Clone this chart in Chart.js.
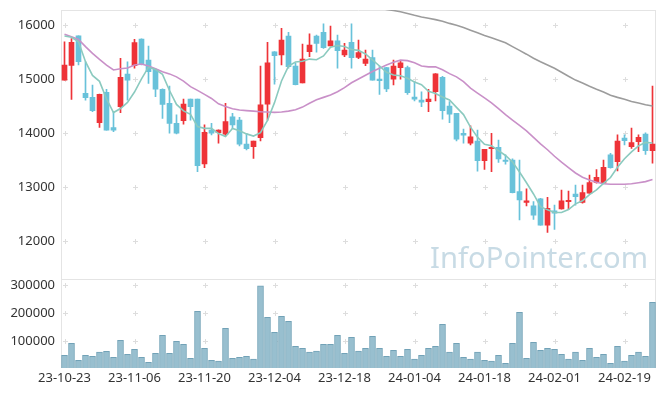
<!DOCTYPE html>
<html>
<head>
<meta charset="utf-8">
<script src="https://cdn.jsdelivr.net/npm/chart.js@4.4.1/dist/chart.umd.min.js"></script>
<style>
html, body { margin: 0; padding: 0; background: #fff; }
</style>
</head>
<body>
<canvas id="stockChart" width="665" height="396"></canvas>
<script>
const dates = [
  '23-10-23','23-10-24','23-10-25','23-10-26','23-10-27','23-10-30','23-10-31','23-11-01','23-11-02','23-11-03',
  '23-11-06','23-11-07','23-11-08','23-11-09','23-11-10','23-11-13','23-11-14','23-11-15','23-11-16','23-11-17',
  '23-11-20','23-11-21','23-11-22','23-11-23','23-11-24','23-11-27','23-11-28','23-11-29','23-11-30','23-12-01',
  '23-12-04','23-12-05','23-12-06','23-12-07','23-12-08','23-12-11','23-12-12','23-12-13','23-12-14','23-12-15',
  '23-12-18','23-12-19','23-12-20','23-12-21','23-12-22','23-12-26','23-12-27','23-12-28','24-01-02','24-01-03',
  '24-01-04','24-01-05','24-01-08','24-01-09','24-01-10','24-01-11','24-01-12','24-01-15','24-01-16','24-01-17',
  '24-01-18','24-01-19','24-01-22','24-01-23','24-01-24','24-01-25','24-01-26','24-01-29','24-01-30','24-01-31',
  '24-02-01','24-02-02','24-02-05','24-02-06','24-02-07','24-02-08','24-02-13','24-02-14','24-02-15','24-02-16',
  '24-02-19','24-02-20','24-02-21','24-02-22','24-02-23'
];

const opens = [
  14980,15250,15800,14735,14660,14190,14755,14100,14490,15090,
  15245,15740,15350,15180,14810,14550,14180,14230,14630,14630,
  13430,14055,14005,13980,14300,14240,13795,13745,13915,14535,
  15505,15445,15795,15240,14930,15505,15795,15865,15615,15705,
  15445,15680,15400,15290,15395,15000,15210,14995,15210,15210,
  14665,14610,14580,14765,15030,14500,14365,13995,13810,13850,
  13490,13710,13735,13500,13500,12915,12715,12650,12780,12295,
  12560,12595,12730,12870,12715,12885,13085,13070,13595,13470,
  13905,13745,13840,13980,13675
];
const highs = [
  15690,15750,15800,15320,14890,14720,14810,14395,15385,15320,
  15735,15745,15610,15200,14820,14870,14335,14630,14630,14630,
  14150,14180,14060,14550,14365,14290,13995,13850,15240,15680,
  15510,15940,15865,15290,15645,15835,15815,16020,15980,15815,
  15660,16020,15720,15535,15535,15240,15215,15350,15335,15240,
  14950,14765,14810,15100,15050,14580,14365,14075,14135,14055,
  13700,13995,13870,13595,13520,13500,12965,12730,12790,12810,
  12665,12945,12925,13035,13035,13220,13325,13500,13625,13965,
  13965,14090,13965,14005,14870
];
const lows = [
  14980,14620,15260,14610,14395,14105,14055,14025,14375,14610,
  15200,15260,14920,14675,14270,13995,13985,14165,14240,13285,
  13360,13965,13810,13945,14085,13760,13685,13530,13855,14240,
  14905,15260,15200,14890,14930,15415,15495,15565,15615,15200,
  15415,15200,15375,15245,14980,14715,14765,14890,14995,14715,
  14595,14490,14395,14595,14255,14190,13855,13810,13780,13295,
  13325,13285,13455,13425,12890,12390,12650,12400,12295,12160,
  12215,12590,12585,12665,12700,12880,13070,13060,13350,13300,
  13780,13715,13655,13605,13440
];
const closes = [
  15260,15680,15320,14655,14415,14715,14055,14055,15030,14980,
  15675,15280,15135,14810,14530,14180,13995,14535,14490,13395,
  14015,13995,14055,14210,14150,13795,13710,13850,14520,15300,
  15430,15720,15230,14895,15370,15630,15660,15580,15705,15525,
  15535,15395,15490,15370,14980,14970,14815,15240,15300,14745,
  14625,14570,14630,15095,14415,14350,13885,13960,13930,13490,
  13700,13735,13520,13475,12895,12760,12745,12480,12295,12605,
  12515,12745,12755,12820,12895,13080,13180,13365,13360,13850,
  13860,13825,13920,13675,13795
];
const volumes = [
  49000,92000,31000,49000,45400,60000,63200,41800,102500,52500,
  70400,41800,24000,56100,120400,56100,99000,88200,38200,206100,
  74000,31000,27900,145400,38200,41800,45400,35000,296400,184700,
  131100,188200,170400,81100,74000,60000,64300,88200,88200,120400,
  56100,113200,64300,74000,116800,74000,45400,66800,45400,70400,
  35000,49000,74000,81100,159700,60000,92000,41800,35000,60000,
  31000,27900,49000,20400,92000,202500,38200,95400,66800,74000,
  70400,52500,35000,60000,31000,74000,41800,52500,20400,81100,
  27900,49000,60000,45400,238200
];
// moving averages as seen on the chart (5, 20 and 60 days)
const ma5 = [
  15796,15772,15691,15321,15066,14957,14632,14379,14454,14567,
  14759,15004,15220,15176,15086,14787,14530,14410,14346,14119,
  14086,14086,13990,13934,14085,14041,13984,13943,14005,14235,
  14562,14964,15240,15315,15329,15369,15357,15427,15589,15620,
  15601,15548,15530,15463,15354,15241,15125,15075,15061,15014,
  14945,14896,14774,14733,14667,14612,14475,14341,14108,13923,
  13793,13763,13675,13584,13465,13277,13079,12871,12635,12577,
  12528,12528,12583,12688,12746,12859,12946,13068,13176,13367,
  13523,13652,13763,13826,13815
];
const ma20 = [
  15830,15784,15735,15599,15475,15364,15259,15167,15191,15204,
  15259,15278,15241,15191,15136,15095,15040,14960,14858,14790,
  14716,14640,14540,14490,14450,14426,14415,14405,14395,14388,
  14383,14390,14405,14430,14480,14550,14615,14660,14704,14765,
  14840,14930,15000,15070,15140,15200,15259,15310,15350,15340,
  15300,15240,15225,15225,15170,15100,15040,14950,14830,14740,
  14650,14560,14450,14340,14240,14140,14040,13920,13800,13690,
  13570,13460,13360,13260,13180,13130,13090,13060,13050,13050,
  13050,13060,13080,13100,13140
];
const ma60 = [
  null,null,null,null,null,null,null,null,null,null,
  null,null,null,null,null,null,null,null,null,null,
  null,null,null,null,null,null,null,null,null,null,
  null,null,null,null,null,null,null,null,16420,16400,
  16385,16370,16355,16340,16320,16305,16290,16268,16247,16215,
  16180,16150,16125,16100,16070,16030,15995,15955,15905,15855,
  15805,15765,15720,15670,15600,15530,15460,15385,15320,15260,
  15198,15125,15050,14980,14925,14865,14810,14760,14700,14660,
  14625,14585,14555,14525,14500
];

const priceTicks = [12000, 13000, 14000, 15000, 16000];
const volumeTicks = [100000, 200000, 300000];
const labelEvery = 10;

const UP = '#ee3338';
const DOWN = '#69c2da';
const candleColors = closes.map((c, i) => c >= opens[i] ? UP : DOWN);

Chart.defaults.font.family = '"Noto Sans", sans-serif';

// faint crosses at grid points, panel frame and watermark
const decoPlugin = {
  id: 'deco',
  beforeDatasetsDraw(chart) {
    const ctx = chart.ctx;
    const area = chart.chartArea;
    const xs = chart.scales.x, ys = chart.scales.y, vs = chart.scales.y2;
    ctx.save();

    const text = 'InfoPointer.com';
    ctx.font = '32px "Noto Sans"';
    const size = 32 * 218 / ctx.measureText(text).width;
    ctx.font = size + 'px "Noto Sans"';
    ctx.fillStyle = '#c8dbe5';
    ctx.textAlign = 'right';
    ctx.textBaseline = 'alphabetic';
    ctx.fillText(text, area.right - 8, ys.bottom - 11);

    ctx.strokeStyle = '#e4e4e4';
    ctx.lineWidth = 1;
    ctx.beginPath();
    ctx.moveTo(area.left, area.top + 0.5);
    ctx.lineTo(area.right, area.top + 0.5);
    ctx.moveTo(area.left + 0.5, area.top);
    ctx.lineTo(area.left + 0.5, area.bottom);
    ctx.moveTo(area.right - 0.5, area.top);
    ctx.lineTo(area.right - 0.5, area.bottom);
    ctx.moveTo(area.left, Math.round(ys.bottom) + 0.5);
    ctx.lineTo(area.right, Math.round(ys.bottom) + 0.5);
    ctx.stroke();

    const rows = priceTicks.map(v => ys.getPixelForValue(v))
      .concat(volumeTicks.map(v => vs.getPixelForValue(v)));
    ctx.strokeStyle = '#dddddd';
    ctx.beginPath();
    dates.forEach((d, i) => {
      if (i % labelEvery !== 0) return;
      const px = Math.round(xs.getPixelForValue(i)) + 0.5;
      rows.forEach(r => {
        const py = Math.round(r) + 0.5;
        ctx.moveTo(px - 2.5, py); ctx.lineTo(px + 2.5, py);
        ctx.moveTo(px, py - 2.5); ctx.lineTo(px, py + 2.5);
      });
    });
    ctx.stroke();
    ctx.restore();
  }
};

const tickFont = { family: '"Noto Sans"', size: 13 };
const fitLeft = s => { s.width = 61; s.paddingTop = 0; s.paddingBottom = 0; };

new Chart(document.getElementById('stockChart'), {
  type: 'bar',
  data: {
    labels: dates,
    datasets: [
      { type: 'line', label: 'MA5', data: ma5, yAxisID: 'y', borderColor: '#8bcabf', borderWidth: 1.6, pointRadius: 0 },
      { type: 'line', label: 'MA20', data: ma20, yAxisID: 'y', borderColor: '#c990c8', borderWidth: 1.6, pointRadius: 0 },
      { type: 'line', label: 'MA60', data: ma60, yAxisID: 'y', borderColor: '#9c9c9c', borderWidth: 1.6, pointRadius: 0 },
      { label: 'body', data: opens.map((o, i) => [o, closes[i]]), yAxisID: 'y', backgroundColor: candleColors,
        barThickness: 5, grouped: false, minBarLength: 1 },
      { label: 'wick', data: lows.map((l, i) => [l, highs[i]]), yAxisID: 'y', backgroundColor: candleColors,
        barThickness: 1, grouped: false },
      { label: 'volume', data: volumes, yAxisID: 'y2', backgroundColor: '#98bfcf', borderColor: '#72a2b7',
        borderWidth: 1, barThickness: 6, grouped: false }
    ]
  },
  options: {
    responsive: false,
    animation: false,
    layout: { padding: { top: 10, right: 9, left: 0, bottom: 0 } },
    plugins: { legend: { display: false }, tooltip: { enabled: false } },
    scales: {
      x: {
        offset: true,
        grid: { display: false, drawTicks: false },
        border: { display: false },
        ticks: {
          autoSkip: false, maxRotation: 0, padding: 2, color: '#333', font: tickFont,
          callback: (v, i) => i % labelEvery === 0 ? dates[i] : ''
        },
        afterFit: s => { s.height = 28; }
      },
      y2: {
        position: 'left', stack: 'panels', stackWeight: 1,
        min: 3500, max: 323000,
        grid: { display: false, drawTicks: false },
        border: { display: false },
        ticks: { padding: 6, color: '#333', font: tickFont, callback: v => String(v) },
        afterBuildTicks: s => { s.ticks = volumeTicks.map(v => ({ value: v })); },
        afterFit: fitLeft
      },
      y: {
        position: 'left', stack: 'panels', stackWeight: 3,
        min: 11306, max: 16278,
        grid: { display: false, drawTicks: false },
        border: { display: false },
        ticks: { padding: 6, color: '#333', font: tickFont, callback: v => String(v) },
        afterBuildTicks: s => { s.ticks = priceTicks.map(v => ({ value: v })); },
        afterFit: fitLeft
      }
    }
  },
  plugins: [decoPlugin]
});
</script>
</body>
</html>
